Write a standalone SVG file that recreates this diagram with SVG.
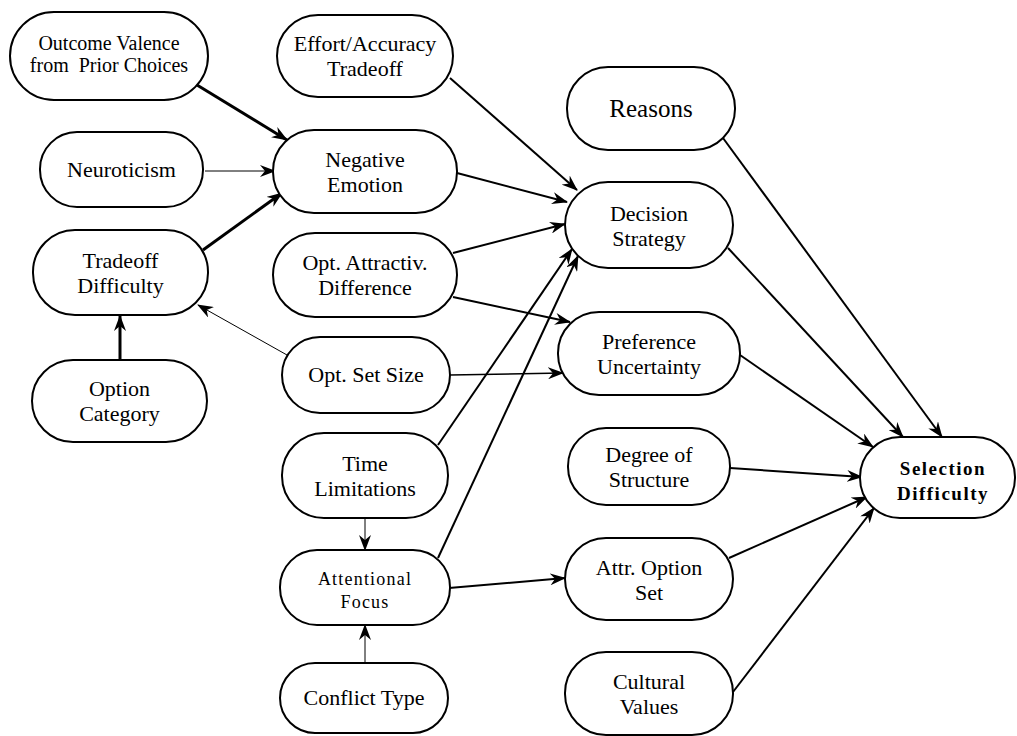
<svg xmlns="http://www.w3.org/2000/svg" width="1017" height="736" viewBox="0 0 1017 736">
<defs>
<marker id="ah" viewBox="0 0 16 12" refX="15" refY="6" markerWidth="16" markerHeight="12" markerUnits="userSpaceOnUse" orient="auto">
<path d="M0,0 L16,6 L0,12 L5,6 z" fill="#000"/>
</marker>
<style>
rect{fill:#fff;stroke:#000;stroke-width:2}
text{font-family:"Liberation Serif","Times New Roman",serif;font-size:22px;fill:#000;text-anchor:middle;white-space:pre}
.sm{font-size:20px}
.lg{font-size:25px}
.b{font-weight:bold;font-size:19px;letter-spacing:1.5px}
.sp{font-size:18px;letter-spacing:1.2px}
#edges path{fill:none;stroke:#000;stroke-width:2;marker-end:url(#ah)}
#edges .thick{stroke-width:3}
#edges .thin{stroke-width:1}
</style>
</defs>
<rect x="0" y="0" width="1017" height="736" style="fill:#fff;stroke:none"/>
<g id="edges">
<path class="thick" d="M197,85 L287,140"/>
<path class="thin" d="M205,171 L275,171"/>
<path class="thick" d="M203,250 L282,193"/>
<path class="thick" d="M120,360 L120,316"/>
<path class="thin" d="M287,355 L198,305"/>
<path d="M450,78 L577,190"/>
<path d="M457,173 L567,202"/>
<path d="M453,253 L565,224"/>
<path d="M453,297 L570,322"/>
<path style="stroke-width:1.6" d="M450,375 L563,373"/>
<path d="M438,445 L572,249"/>
<path d="M438,558 L578,256"/>
<path class="thin" d="M365,518 L365,550"/>
<path class="thin" d="M365,663 L365,625"/>
<path d="M449,588 L565,578"/>
<path d="M723,138 L942,437"/>
<path d="M728,248 L903,437"/>
<path d="M740,355 L873,447"/>
<path d="M730,468 L862,477"/>
<path d="M729,558 L867,497"/>
<path d="M733,692 L874,508"/>
</g>
<g id="outcome"><rect x="10" y="12" width="198" height="88" rx="44"/><text class="sm" x="109" y="50">Outcome Valence</text><text class="sm" x="109" y="72">from  Prior Choices</text></g>
<g id="neuroticism"><rect x="40" y="132" width="163" height="75" rx="37"/><text x="121.5" y="177">Neuroticism</text></g>
<g id="tradeoff"><rect x="33" y="230" width="175" height="85" rx="42"/><text x="120.5" y="268">Tradeoff</text><text x="120.5" y="293">Difficulty</text></g>
<g id="optcat"><rect x="32" y="360" width="175" height="82" rx="41"/><text x="119.5" y="396">Option</text><text x="119.5" y="421">Category</text></g>
<g id="effort"><rect x="277" y="15" width="176" height="82" rx="41"/><text x="365" y="51">Effort/Accuracy</text><text x="365" y="76">Tradeoff</text></g>
<g id="negemo"><rect x="273" y="130" width="184" height="83" rx="41"/><text x="365" y="167">Negative</text><text x="365" y="192">Emotion</text></g>
<g id="optattr"><rect x="273" y="233" width="184" height="84" rx="42"/><text x="365" y="270">Opt. Attractiv.</text><text x="365" y="295">Difference</text></g>
<g id="optset"><rect x="282" y="337" width="168" height="76" rx="38"/><text x="366" y="382">Opt. Set Size</text></g>
<g id="time"><rect x="282" y="433" width="166" height="85" rx="42"/><text x="365" y="471">Time</text><text x="365" y="496">Limitations</text></g>
<g id="attn"><rect x="280" y="550" width="170" height="75" rx="37"/><text class="sp" x="365" y="585">Attentional</text><text class="sp" x="365" y="608">Focus</text></g>
<g id="conflict"><rect x="280" y="663" width="168" height="70" rx="35"/><text x="364" y="705">Conflict Type</text></g>
<g id="reasons"><rect x="567" y="67" width="168" height="83" rx="41"/><text class="lg" x="651" y="117">Reasons</text></g>
<g id="decision"><rect x="565" y="182" width="168" height="86" rx="43"/><text x="649" y="221">Decision</text><text x="649" y="246">Strategy</text></g>
<g id="prefunc"><rect x="558" y="312" width="182" height="83" rx="41"/><text x="649" y="349">Preference</text><text x="649" y="374">Uncertainty</text></g>
<g id="degree"><rect x="568" y="428" width="162" height="77" rx="38"/><text x="649" y="462">Degree of</text><text x="649" y="487">Structure</text></g>
<g id="attr"><rect x="565" y="538" width="168" height="82" rx="41"/><text x="649" y="575">Attr. Option</text><text x="649" y="600">Set</text></g>
<g id="cultural"><rect x="565" y="652" width="168" height="83" rx="41"/><text x="649" y="689">Cultural</text><text x="649" y="714">Values</text></g>
<g id="selection"><rect x="860" y="437" width="155" height="81" rx="40"/><text class="b" x="943" y="475">Selection</text><text class="b" x="943" y="500">Difficulty</text></g>
</svg>
